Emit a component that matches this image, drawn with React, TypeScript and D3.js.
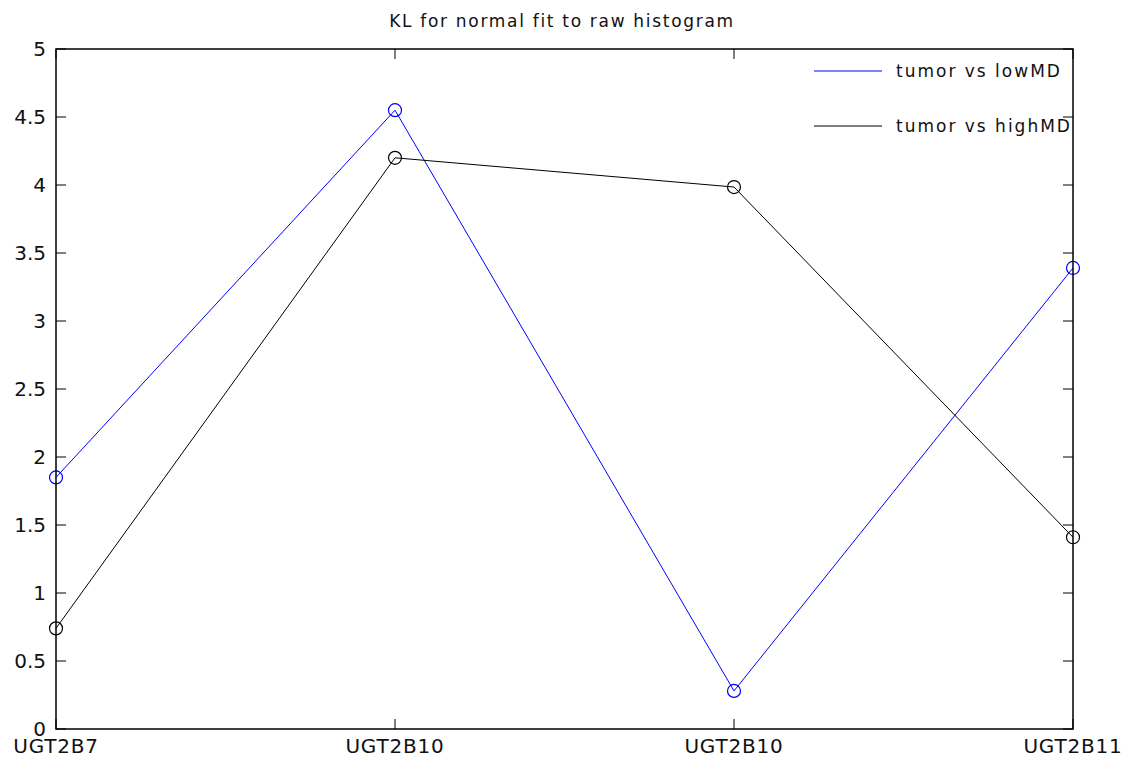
import { useEffect, useRef } from 'react';
import * as d3 from 'd3';

const categories = ['UGT2B7', 'UGT2B10', 'UGT2B10', 'UGT2B11'];
const lowMD = [1.85, 4.55, 0.28, 3.39];
const highMD = [0.74, 4.2, 3.985, 1.41];
const yTicks = [0, 0.5, 1, 1.5, 2, 2.5, 3, 3.5, 4, 4.5, 5];

const series = [
  { name: 'tumor vs lowMD', values: lowMD, color: '#0000ff' },
  { name: 'tumor vs highMD', values: highMD, color: '#000000' },
];

export default function App() {
  const ref = useRef<SVGSVGElement | null>(null);

  useEffect(() => {
    const svg = d3.select(ref.current);
    svg.selectAll('*').remove();

    const width = 1125, height = 758;
    const margin = { top: 49, right: 52, bottom: 29, left: 56 };
    const w = width - margin.left - margin.right;
    const h = height - margin.top - margin.bottom;
    const font = "'DejaVu Sans', Verdana, sans-serif";

    svg.append('rect').attr('width', width).attr('height', height).attr('fill', '#fff');
    const g = svg.append('g').attr('transform', `translate(${margin.left},${margin.top})`);

    const x = d3.scaleLinear().domain([0, categories.length - 1]).range([0, w]);
    const y = d3.scaleLinear().domain([0, 5]).range([h, 0]);

    // title
    svg.append('text').attr('x', 562).attr('y', 27)
      .attr('text-anchor', 'middle').style('font-family', font).style('font-size', '17px')
      .style('letter-spacing', '1.7px').style('fill', '#111').text('KL for normal fit to raw histogram');

    // series
    const line = d3.line<number>().x((_, i) => x(i)).y(d => y(d));
    series.forEach(s => {
      g.append('path').datum(s.values).attr('d', line)
        .attr('fill', 'none').attr('stroke', s.color).attr('stroke-width', 1);
      g.selectAll(null).data(s.values).enter().append('circle')
        .attr('cx', (_, i) => x(i)).attr('cy', d => y(d)).attr('r', 6.5)
        .attr('fill', 'none').attr('stroke', s.color).attr('stroke-width', 1.2);
    });

    // legend (no visible box)
    const legY = [71, 126];
    series.forEach((s, i) => {
      g.append('line').attr('x1', 814 - margin.left).attr('x2', 882 - margin.left)
        .attr('y1', legY[i] - margin.top).attr('y2', legY[i] - margin.top)
        .attr('stroke', s.color).attr('stroke-width', 1.2);
      g.append('text').attr('x', 896 - margin.left).attr('y', legY[i] - margin.top + 6)
        .style('font-family', font).style('font-size', '17px').style('letter-spacing', '2px')
        .style('fill', '#111').text(s.name);
    });

    // frame
    g.append('rect').attr('width', w).attr('height', h)
      .attr('fill', 'none').attr('stroke', '#000').attr('stroke-width', 1.5);

    const tl = 10;
    yTicks.forEach(t => {
      g.append('line').attr('x1', 0).attr('x2', tl).attr('y1', y(t)).attr('y2', y(t)).attr('stroke', '#000');
      g.append('line').attr('x1', w - tl).attr('x2', w).attr('y1', y(t)).attr('y2', y(t)).attr('stroke', '#000');
      g.append('text').attr('x', -10).attr('y', y(t) + 7).attr('text-anchor', 'end')
        .style('font-family', font).style('font-size', '20px').style('fill', '#111').text(String(t));
    });

    categories.forEach((c, i) => {
      g.append('line').attr('x1', x(i)).attr('x2', x(i)).attr('y1', h).attr('y2', h - tl).attr('stroke', '#000');
      g.append('line').attr('x1', x(i)).attr('x2', x(i)).attr('y1', 0).attr('y2', tl).attr('stroke', '#000');
      g.append('text').attr('x', x(i)).attr('y', h + 24).attr('text-anchor', 'middle')
        .style('font-family', font).style('font-size', '20px').style('letter-spacing', '0.8px')
        .style('fill', '#111').text(c);
    });
  }, []);

  return (
    <svg ref={ref} width={1125} height={758}
      style={{ position: 'absolute', left: 0, top: 0, display: 'block' }} />
  );
}
